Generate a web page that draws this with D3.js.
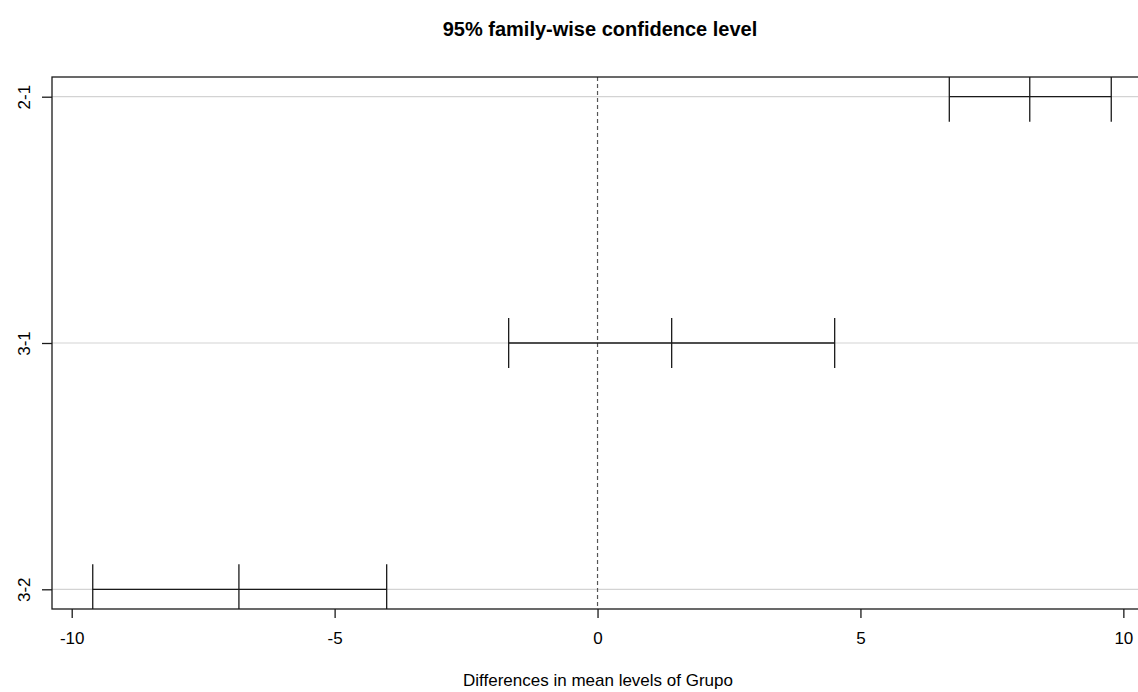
<!DOCTYPE html>
<html>
<head>
<meta charset="utf-8">
<script src="https://cdn.jsdelivr.net/npm/d3@7"></script>
<style>
html,body{margin:0;padding:0;background:#fff;}
svg{display:block;}
text{font-family:"Liberation Sans",Arial,sans-serif;fill:#000;}
</style>
</head>
<body>
<svg id="chart" width="1138" height="692"></svg>
<script>
// Data (TukeyHSD comparisons)
const comparisons = ["2-1", "3-1", "3-2"];
const diffValues = [8.22, 1.41, -6.82];
const lwrValues = [6.69, -1.69, -9.60];
const uprValues = [9.77, 4.51, -4.01];
const xTickValues = [-10, -5, 0, 5, 10];
const titleText = "95% family-wise confidence level";
const xLabelText = "Differences in mean levels of Grupo";

const svg = d3.select("#chart");
const W = 1138, H = 692;
const plot = {left: 52, top: 77, right: 1152, bottom: 609};

const ext = [d3.min(lwrValues), d3.max(uprValues)];
const pad = (ext[1] - ext[0]) * 0.04;
const x = d3.scaleLinear().domain([ext[0] - pad, ext[1] + pad]).range([plot.left, plot.right]);
const n = comparisons.length;
// first comparison at top (position n), last at bottom (position 1)
const yPos = comparisons.map((c, i) => n - i);
const y = d3.scaleLinear()
  .domain([1 - 0.04 * (n - 1), n + 0.04 * (n - 1)])
  .range([plot.bottom, plot.top]);

svg.append("rect").attr("width", W).attr("height", H).attr("fill", "#fff");

svg.append("defs").append("clipPath").attr("id", "clip")
  .append("rect").attr("x", plot.left).attr("y", plot.top)
  .attr("width", plot.right - plot.left).attr("height", plot.bottom - plot.top);

const g = svg.append("g").attr("clip-path", "url(#clip)");

// horizontal grid lines
g.selectAll("line.grid").data(comparisons).join("line")
  .attr("class", "grid")
  .attr("x1", plot.left).attr("x2", plot.right)
  .attr("y1", (d, i) => y(yPos[i])).attr("y2", (d, i) => y(yPos[i]))
  .attr("stroke", "#d3d3d3").attr("stroke-width", 1.2);

// dashed zero line
g.append("line")
  .attr("x1", x(0)).attr("x2", x(0))
  .attr("y1", plot.top).attr("y2", plot.bottom)
  .attr("stroke", "#555").attr("stroke-width", 1.2)
  .attr("stroke-dasharray", "4,3");

// intervals
const half = 25;
comparisons.forEach((c, i) => {
  const yy = y(yPos[i]);
  g.append("line")
    .attr("x1", x(lwrValues[i])).attr("x2", x(uprValues[i]))
    .attr("y1", yy).attr("y2", yy)
    .attr("stroke", "#1a1a1a").attr("stroke-width", 1.3);
  [lwrValues[i], diffValues[i], uprValues[i]].forEach(v => {
    g.append("line")
      .attr("x1", x(v)).attr("x2", x(v))
      .attr("y1", yy - half).attr("y2", yy + half)
      .attr("stroke", "#1a1a1a").attr("stroke-width", 1.3);
  });
});

// plot box
svg.append("rect")
  .attr("x", plot.left).attr("y", plot.top)
  .attr("width", plot.right - plot.left).attr("height", plot.bottom - plot.top)
  .attr("fill", "none").attr("stroke", "#1a1a1a").attr("stroke-width", 1.3);

// x axis
const xAxis = d3.axisBottom(x).tickValues(xTickValues).tickSize(9).tickPadding(14).tickSizeOuter(0)
  .tickFormat(d3.format("d"));
const xa = svg.append("g").attr("transform", `translate(0,${plot.bottom})`).call(xAxis);
xa.select(".domain").remove();
xa.selectAll(".tick line").attr("stroke", "#1a1a1a").attr("stroke-width", 1.3);
xa.selectAll(".tick text").style("font-size", "17px").attr("fill", "#000")
  .text(d => d < 0 ? "-" + Math.abs(d) : d);

// y axis
const yAxis = d3.axisLeft(y).tickValues(yPos).tickSize(10).tickPadding(0).tickSizeOuter(0)
  .tickFormat((d) => comparisons[n - d]);
const ya = svg.append("g").attr("transform", `translate(${plot.left},0)`).call(yAxis);
ya.select(".domain").remove();
ya.selectAll(".tick line").attr("stroke", "#1a1a1a").attr("stroke-width", 1.3);
ya.selectAll(".tick text")
  .style("font-size", "17px").attr("fill", "#000")
  .attr("x", null).attr("dy", null)
  .attr("text-anchor", "middle")
  .attr("transform", "translate(-28,0) rotate(-90)")
  .attr("dy", "0.35em");

// title
svg.append("text").attr("x", 600).attr("y", 36)
  .attr("text-anchor", "middle").style("font-size", "20px").style("font-weight", "bold")
  .text(titleText);

// x label
svg.append("text").attr("x", 598).attr("y", 686)
  .attr("text-anchor", "middle").style("font-size", "17px")
  .text(xLabelText);
</script>
</body>
</html>
